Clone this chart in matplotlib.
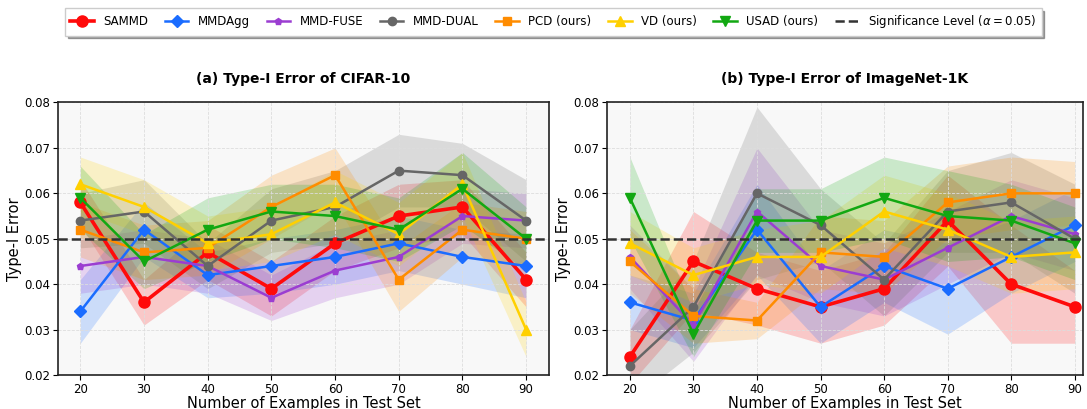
import matplotlib.pyplot as plt
import numpy as np

x = [20, 30, 40, 50, 60, 70, 80, 90]
methods = ["SAMMD", "MMDAgg", "MMD-FUSE", "MMD-DUAL", "PCD (ours)", "VD (ours)", "USAD (ours)"]
colors = ["#ff0a0a", "#1a6cff", "#9b3dd1", "#666666", "#ff8c00", "#ffd000", "#12a812"]
markers = ["o", "D", "p", "o", "s", "^", "v"]
msizes = [8, 6, 5, 6, 6, 7, 7]
lwidths = [2.6, 1.8, 1.8, 1.8, 1.8, 1.8, 1.8]

# CIFAR-10 means and band half-widths
cifar_mean = [
    [0.058, 0.036, 0.047, 0.039, 0.049, 0.055, 0.057, 0.041],
    [0.034, 0.052, 0.042, 0.044, 0.046, 0.049, 0.046, 0.044],
    [0.044, 0.046, 0.044, 0.037, 0.043, 0.046, 0.055, 0.054],
    [0.054, 0.056, 0.044, 0.054, 0.057, 0.065, 0.064, 0.054],
    [0.052, 0.047, 0.048, 0.057, 0.064, 0.041, 0.052, 0.050],
    [0.062, 0.057, 0.049, 0.051, 0.058, 0.051, 0.062, 0.030],
    [0.059, 0.045, 0.052, 0.056, 0.055, 0.052, 0.061, 0.050],
]
cifar_std = [
    [0.005, 0.005, 0.006, 0.006, 0.006, 0.007, 0.006, 0.006],
    [0.007, 0.006, 0.005, 0.006, 0.006, 0.006, 0.006, 0.007],
    [0.006, 0.006, 0.006, 0.005, 0.006, 0.006, 0.006, 0.006],
    [0.006, 0.007, 0.005, 0.007, 0.008, 0.008, 0.007, 0.009],
    [0.006, 0.006, 0.006, 0.007, 0.006, 0.007, 0.006, 0.006],
    [0.006, 0.006, 0.006, 0.006, 0.007, 0.007, 0.007, 0.006],
    [0.007, 0.006, 0.007, 0.006, 0.007, 0.007, 0.008, 0.007],
]

# ImageNet-1K means and band half-widths
imnet_mean = [
    [0.024, 0.045, 0.039, 0.035, 0.039, 0.054, 0.040, 0.035],
    [0.036, 0.032, 0.052, 0.035, 0.044, 0.039, 0.046, 0.053],
    [0.046, 0.031, 0.056, 0.044, 0.041, 0.048, 0.055, 0.051],
    [0.022, 0.035, 0.060, 0.053, 0.041, 0.056, 0.058, 0.050],
    [0.045, 0.033, 0.032, 0.047, 0.046, 0.058, 0.060, 0.060],
    [0.049, 0.042, 0.046, 0.046, 0.056, 0.052, 0.046, 0.047],
    [0.059, 0.029, 0.054, 0.054, 0.059, 0.055, 0.054, 0.049],
]
imnet_std = [
    [0.006, 0.011, 0.008, 0.008, 0.008, 0.010, 0.013, 0.008],
    [0.006, 0.006, 0.010, 0.008, 0.008, 0.010, 0.008, 0.008],
    [0.007, 0.008, 0.014, 0.008, 0.008, 0.008, 0.008, 0.008],
    [0.008, 0.010, 0.019, 0.008, 0.008, 0.009, 0.011, 0.012],
    [0.007, 0.006, 0.004, 0.008, 0.008, 0.008, 0.008, 0.007],
    [0.007, 0.006, 0.006, 0.008, 0.008, 0.008, 0.008, 0.008],
    [0.009, 0.005, 0.007, 0.007, 0.009, 0.010, 0.008, 0.008],
]

titles = ["(a) Type-I Error of CIFAR-10", "(b) Type-I Error of ImageNet-1K"]
xlims = [(16.5, 93.6), (16.4, 91.3)]
alpha_level = 0.05

fig = plt.figure(figsize=(10.87, 4.09), dpi=100)
axes = [fig.add_axes([0.0534, 0.0831, 0.4517, 0.6663]),
        fig.add_axes([0.5584, 0.0831, 0.4380, 0.6663])]

for ax, means, stds, title, xl in zip(axes, [cifar_mean, imnet_mean], [cifar_std, imnet_std], titles, xlims):
    ax.set_facecolor("#f8f8f8")
    for i, name in enumerate(methods):
        m = np.array(means[i])
        s = np.array(stds[i])
        ax.fill_between(x, m - s, m + s, color=colors[i], alpha=0.2, linewidth=0)
        ax.plot(x, m, color=colors[i], marker=markers[i], markersize=msizes[i],
                linewidth=lwidths[i], label=name)
    ax.axhline(alpha_level, color="#333333", linestyle="--", linewidth=1.8,
               label=r"Significance Level ($\alpha = 0.05$)")
    ax.set_ylim(0.02, 0.08)
    ax.set_xlim(*xl)
    ax.set_xticks(x)
    ax.set_yticks([0.02, 0.03, 0.04, 0.05, 0.06, 0.07, 0.08])
    ax.tick_params(labelsize=8.5, pad=2)
    ax.grid(True, linestyle="--", linewidth=0.6, color="#dddddd")
    for sp in ax.spines.values():
        sp.set_color("#222222")
        sp.set_linewidth(1.2)
    ax.set_title(title, fontsize=10, fontweight="bold", pad=14)
    ax.set_xlabel("Number of Examples in Test Set", fontsize=10.5, labelpad=0)
    ax.set_ylabel("Type-I Error", fontsize=10.5, labelpad=2)

handles, labels = axes[0].get_legend_handles_labels()
fig.legend(handles, labels, loc="upper center", bbox_to_anchor=(0.509, 0.995), ncol=8,
           fontsize=8.5, frameon=True, shadow=True, fancybox=False, edgecolor="#cccccc",
           handlelength=2.0, columnspacing=1.4, borderpad=0.45)

fig.savefig("out.png", dpi=100)
